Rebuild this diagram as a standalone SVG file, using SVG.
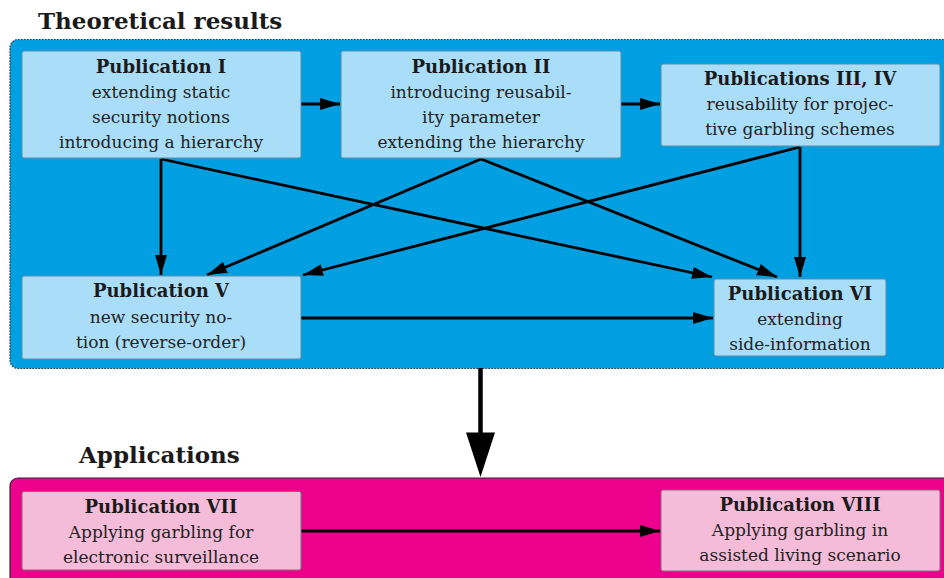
<svg xmlns="http://www.w3.org/2000/svg" width="944" height="578" viewBox="0 0 944 578">
  <style>
    .heading { font-family: "DejaVu Serif", "Liberation Serif", serif; font-weight: bold; font-size: 23px; fill: #1a1a1a; }
    .title { font-family: "DejaVu Serif", "Liberation Serif", serif; font-weight: bold; font-size: 18px; fill: #1a1a1a; text-anchor: middle; }
    .body { font-family: "DejaVu Serif", "Liberation Serif", serif; font-size: 17px; fill: #222; text-anchor: middle; }
    .theory-box { fill: #009fe1; stroke: #2a3a44; stroke-width: 1.2; stroke-dasharray: 1.6 1.4; }
    .apps-box { fill: #ec008c; stroke: #3a2030; stroke-width: 1.2; }
    .node-blue { fill: #a9ddf8; stroke: #5b8ea8; stroke-width: 1; }
    .node-pink { fill: #f5bcd9; stroke: #8c6a7c; stroke-width: 1; }
    .edge { fill: none; stroke: #000; stroke-width: 2.8; marker-end: url(#head); }
  </style>
  <defs>
    <marker id="head" markerUnits="userSpaceOnUse" markerWidth="22" markerHeight="14" refX="20" refY="6.5" orient="auto">
      <path d="M0,0.5 L20,6.5 L0,12.5 Z" fill="#000"/>
    </marker>
  </defs>

  <rect width="944" height="578" fill="#ffffff"/>

  <!-- section frames -->
  <g id="theory-frame">
    <text class="heading" x="38" y="29">Theoretical results</text>
    <rect class="theory-box" x="10" y="39.5" width="950" height="329" rx="8"/>
  </g>
  <g id="apps-frame">
    <text class="heading" x="79" y="463">Applications</text>
    <rect class="apps-box" x="10" y="478" width="950" height="130" rx="8"/>
  </g>

  <!-- connectors -->
  <g id="connectors">
    <line class="edge" x1="301" y1="104" x2="340" y2="104"/>
    <line class="edge" x1="621" y1="104" x2="660" y2="104"/>
    <line class="edge" x1="161" y1="159" x2="161" y2="275"/>
    <line class="edge" x1="161" y1="159" x2="712" y2="277"/>
    <line class="edge" x1="481" y1="159" x2="207" y2="275"/>
    <line class="edge" x1="481" y1="159" x2="777" y2="277"/>
    <line class="edge" x1="800" y1="147" x2="303" y2="275"/>
    <line class="edge" x1="800" y1="147" x2="800" y2="277"/>
    <line class="edge" x1="301" y1="318" x2="713" y2="318"/>
    <line class="edge" x1="301" y1="531" x2="660" y2="531"/>
    <!-- transition from theory to applications -->
    <line x1="480.5" y1="368" x2="480.5" y2="436" stroke="#000" stroke-width="4.5"/>
    <path d="M466,432.5 L495,432.5 L480.5,477 Z" fill="#000"/>
  </g>

  <!-- nodes -->
  <g id="pub-1">
    <rect class="node-blue" x="22" y="51" width="279" height="107" rx="2"/>
    <text class="title" x="161" y="73">Publication I</text>
    <text class="body" x="161" y="98">extending static</text>
    <text class="body" x="161" y="123">security notions</text>
    <text class="body" x="161" y="148">introducing a hierarchy</text>
  </g>
  <g id="pub-2">
    <rect class="node-blue" x="341" y="51" width="280" height="107" rx="2"/>
    <text class="title" x="481" y="73">Publication II</text>
    <text class="body" x="481" y="98">introducing reusabil-</text>
    <text class="body" x="481" y="123">ity parameter</text>
    <text class="body" x="481" y="148">extending the hierarchy</text>
  </g>
  <g id="pub-3-4">
    <rect class="node-blue" x="661" y="64" width="279" height="82" rx="2"/>
    <text class="title" x="800" y="85">Publications III, IV</text>
    <text class="body" x="800" y="110">reusability for projec-</text>
    <text class="body" x="800" y="135">tive garbling schemes</text>
  </g>
  <g id="pub-5">
    <rect class="node-blue" x="22" y="276" width="279" height="83" rx="2"/>
    <text class="title" x="161" y="297">Publication V</text>
    <text class="body" x="161" y="322.5">new security no-</text>
    <text class="body" x="161" y="347.5">tion (reverse-order)</text>
  </g>
  <g id="pub-6">
    <rect class="node-blue" x="714" y="279" width="172" height="77" rx="2"/>
    <text class="title" x="800" y="299.5">Publication VI</text>
    <text class="body" x="800" y="325">extending</text>
    <text class="body" x="800" y="349.5">side-information</text>
  </g>
  <g id="pub-7">
    <rect class="node-pink" x="22" y="491.5" width="279" height="78.5" rx="2"/>
    <text class="title" x="161" y="513">Publication VII</text>
    <text class="body" x="161" y="538">Applying garbling for</text>
    <text class="body" x="161" y="563">electronic surveillance</text>
  </g>
  <g id="pub-8">
    <rect class="node-pink" x="661" y="490" width="279" height="81" rx="2"/>
    <text class="title" x="800" y="511">Publication VIII</text>
    <text class="body" x="800" y="536">Applying garbling in</text>
    <text class="body" x="800" y="561">assisted living scenario</text>
  </g>
</svg>
